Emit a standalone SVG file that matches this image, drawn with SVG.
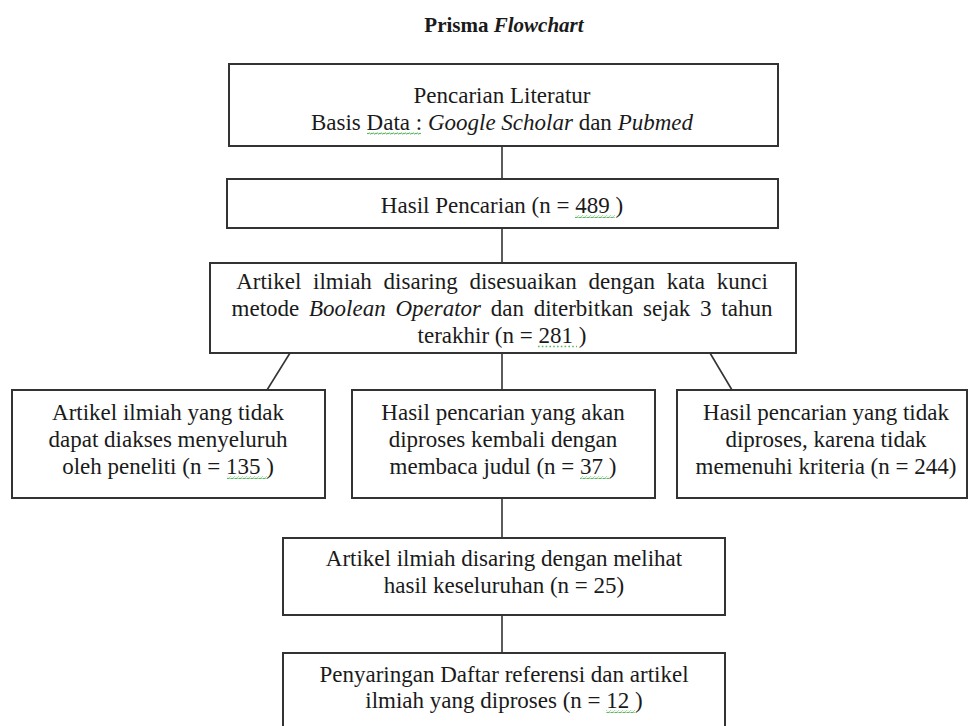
<svg xmlns="http://www.w3.org/2000/svg" width="969" height="726" viewBox="0 0 969 726">
<style>
  .box { fill: #ffffff; stroke: #333333; stroke-width: 2; }
  .t { font-family: "Liberation Serif", "Times New Roman", serif; font-size: 23px; fill: #1a1a1a; text-anchor: middle; }
  .i { font-style: italic; }
  .title { font-family: "Liberation Serif", "Times New Roman", serif; font-size: 21px; font-weight: bold; fill: #1a1a1a; text-anchor: middle; }
  .conn line { stroke: #333333; stroke-width: 1.6; }
  .wave { fill: url(#wv); }
  .dots { stroke: #5cb85c; stroke-width: 1.6; stroke-dasharray: 1.6 2.2; }
</style>
<defs>
  <pattern id="wv" width="4" height="3" patternUnits="userSpaceOnUse">
    <path d="M0,2.3 L1,0.7 L3,2.3 L4,0.7" fill="none" stroke="#4caf50" stroke-width="0.9"/>
  </pattern>
</defs>
<rect width="969" height="726" fill="#ffffff"/>
<text class="title" x="504" y="32">Prisma <tspan class="i">Flowchart</tspan></text>

<g class="conn" id="connectors">
  <line x1="502" y1="146" x2="502" y2="179"/>
  <line x1="502" y1="228" x2="502" y2="263"/>
  <line x1="290" y1="353" x2="267" y2="390"/>
  <line x1="502" y1="353" x2="502" y2="390"/>
  <line x1="710" y1="353" x2="732" y2="390"/>
  <line x1="502" y1="498" x2="502" y2="538"/>
  <line x1="502" y1="615" x2="502" y2="653"/>
</g>

<g id="n1">
  <rect class="box" x="229" y="64" width="549" height="82"/>
  <text class="t" x="502" y="103">Pencarian Literatur</text>
  <text class="t" x="502" y="130">Basis Data : <tspan class="i">Google Scholar</tspan> dan <tspan class="i">Pubmed</tspan></text>
  <rect class="wave" x="367" y="132" width="54" height="3"/>
</g>

<g id="n2">
  <rect class="box" x="227" y="179" width="551" height="49"/>
  <text class="t" x="502" y="213">Hasil Pencarian (n = 489 )</text>
  <rect class="wave" x="575" y="215" width="40" height="3"/>
</g>

<g id="n3">
  <rect class="box" x="210" y="263" width="586" height="90"/>
  <text class="t" x="502" y="289" style="word-spacing:6px">Artikel ilmiah disaring disesuaikan dengan kata kunci</text>
  <text class="t" x="502" y="316" style="word-spacing:4px">metode <tspan class="i">Boolean Operator</tspan> dan diterbitkan sejak 3 tahun</text>
  <text class="t" x="502" y="343">terakhir (n = 281 )</text>
  <line class="dots" x1="538" y1="346.5" x2="577" y2="346.5"/>
</g>

<g id="n4">
  <rect class="box" x="12" y="390" width="313" height="108"/>
  <text class="t" x="168" y="420">Artikel ilmiah yang tidak</text>
  <text class="t" x="168" y="447">dapat diakses menyeluruh</text>
  <text class="t" x="168" y="474">oleh peneliti (n = 135 )</text>
  <rect class="wave" x="227" y="476" width="40" height="3"/>
</g>

<g id="n5">
  <rect class="box" x="352" y="390" width="303" height="108"/>
  <text class="t" x="503" y="420">Hasil pencarian yang akan</text>
  <text class="t" x="503" y="447">diproses kembali dengan</text>
  <text class="t" x="503" y="474">membaca judul (n = 37 )</text>
  <rect class="wave" x="580" y="476" width="29" height="3"/>
</g>

<g id="n6">
  <rect class="box" x="677" y="390" width="290" height="108"/>
  <text class="t" x="826" y="420">Hasil pencarian yang tidak</text>
  <text class="t" x="826" y="447">diproses, karena tidak</text>
  <text class="t" x="826" y="474">memenuhi kriteria (n = 244)</text>
</g>

<g id="n7">
  <rect class="box" x="283" y="538" width="442" height="77"/>
  <text class="t" x="504" y="566">Artikel ilmiah disaring dengan melihat</text>
  <text class="t" x="504" y="593">hasil keseluruhan (n = 25)</text>
</g>

<g id="n8">
  <rect class="box" x="283" y="653" width="442" height="90"/>
  <text class="t" x="504" y="682">Penyaringan Daftar referensi dan artikel</text>
  <text class="t" x="504" y="708">ilmiah yang diproses (n = 12 )</text>
  <rect class="wave" x="606" y="710" width="29" height="3"/>
</g>
</svg>
